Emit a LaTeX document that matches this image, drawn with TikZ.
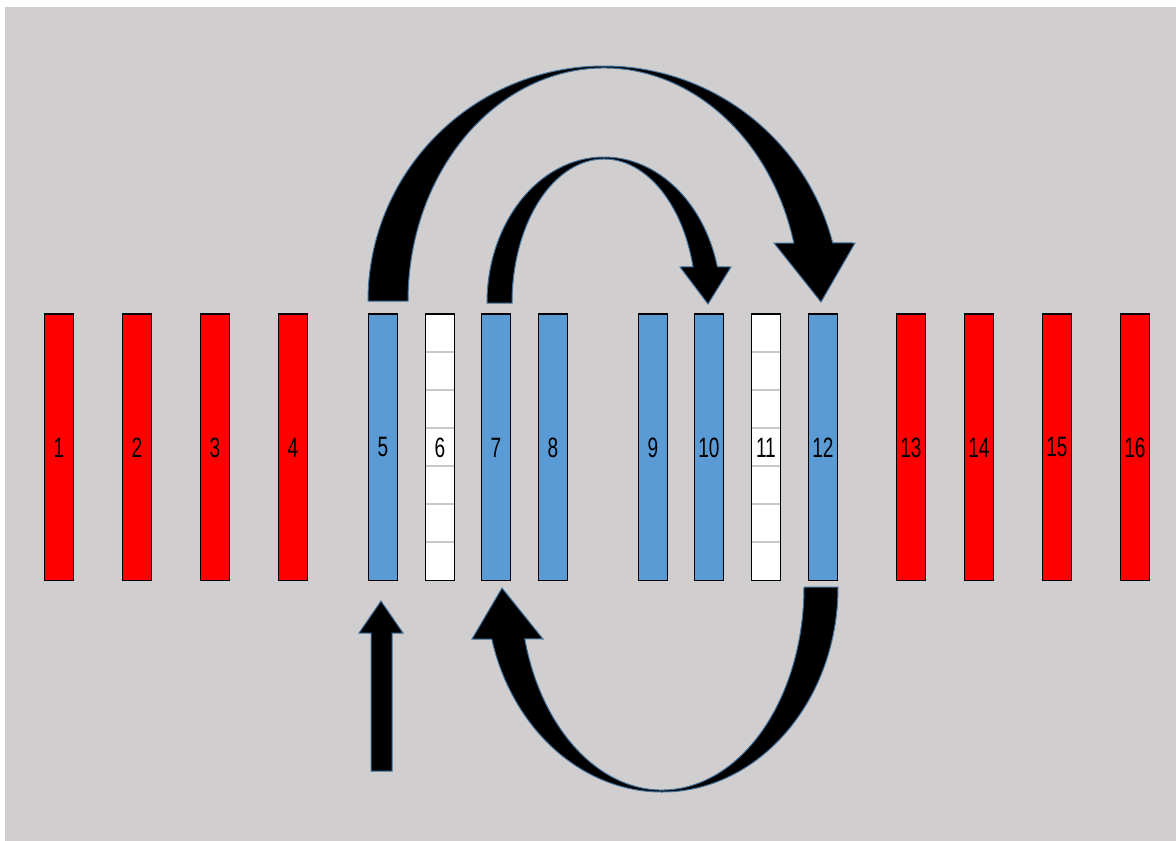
\documentclass[tikz,border=0pt]{standalone}
\usepackage{fontspec}
\usetikzlibrary{calc}
\newfontfamily\labfont[FakeStretch=0.68]{Liberation Sans}
\definecolor{bg}{RGB}{208,206,206}
\definecolor{barred}{RGB}{255,0,0}
\definecolor{barblue}{RGB}{91,155,213}
\definecolor{arrowedge}{RGB}{65,113,156}
\definecolor{segline}{RGB}{200,200,200}
\begin{document}
\begin{tikzpicture}[x=1pt,y=-1pt,
  bar/.style={draw=black, line width=0.8pt, minimum width=29pt, minimum height=266pt,
    inner sep=0pt, anchor=north west, font=\labfont\fontsize{28}{28}\selectfont},
  blockarrow/.style={fill=black, draw=arrowedge, line width=1pt, line join=miter},
  segstyle/.style={draw=segline, line width=1.5pt}]
\useasboundingbox (0,0) rectangle (1176,841);
\fill[bg] (5,7) rectangle (1176,841);
% bars
\foreach \n/\x/\c in {1/44/barred, 2/122/barred, 3/200/barred, 4/278/barred,
  5/368/barblue, 6/425/white, 7/481/barblue, 8/538/barblue,
  9/638/barblue, 10/694/barblue, 11/751/white, 12/808/barblue,
  13/896/barred, 14/964/barred, 15/1042/barred, 16/1120/barred}{
  \node[bar, fill=\c] (b\n) at (\x,314) {\n};
  \draw[line width=2pt] (b\n.north west) -- (b\n.north east);
}
\foreach \b in {b6,b11}{
  \foreach \k in {1,...,6}{
    \draw[segstyle] ([yshift=-\k*38pt, xshift=0.8pt]\b.north west) -- ([yshift=-\k*38pt, xshift=-0.8pt]\b.north east);
  }
}
% centres of the curved arrows
\coordinate (c1) at (604,301);
\coordinate (c2) at (604,303);
\coordinate (c3) at (662,587);
% big arrow 5 -> 12
\draw[blockarrow] (368,301) arc[start angle=180, end angle=345.7, x radius=236, y radius=235]
  -- (855,243) -- (821,302) -- (774,243)
  -- ($(c1)+(345.6:196 and 233)$) arc[start angle=345.6, end angle=180, x radius=196, y radius=233] -- cycle;
% small arrow 7 -> 10
\draw[blockarrow] (487,303) arc[start angle=180, end angle=345.7, x radius=117, y radius=146]
  -- (731,267) -- (708,304) -- (680,267)
  -- ($(c2)+(345.5:92 and 144)$) arc[start angle=345.5, end angle=180, x radius=92, y radius=144] -- cycle;
% bottom arrow 12 -> 7
\draw[blockarrow] (838,587) arc[start angle=0, end angle=165.3, x radius=176, y radius=205]
  -- (472,639) -- (502,588) -- (543,639)
  -- ($(c3)+(165.2:142 and 203)$) arc[start angle=165.2, end angle=0, x radius=142, y radius=203] -- cycle;
% straight arrow into 5
\draw[blockarrow] (371,771) -- (371,633) -- (359,633) -- (381,601) -- (403,633) -- (392,633) -- (392,771) -- cycle;
\end{tikzpicture}
\end{document}
